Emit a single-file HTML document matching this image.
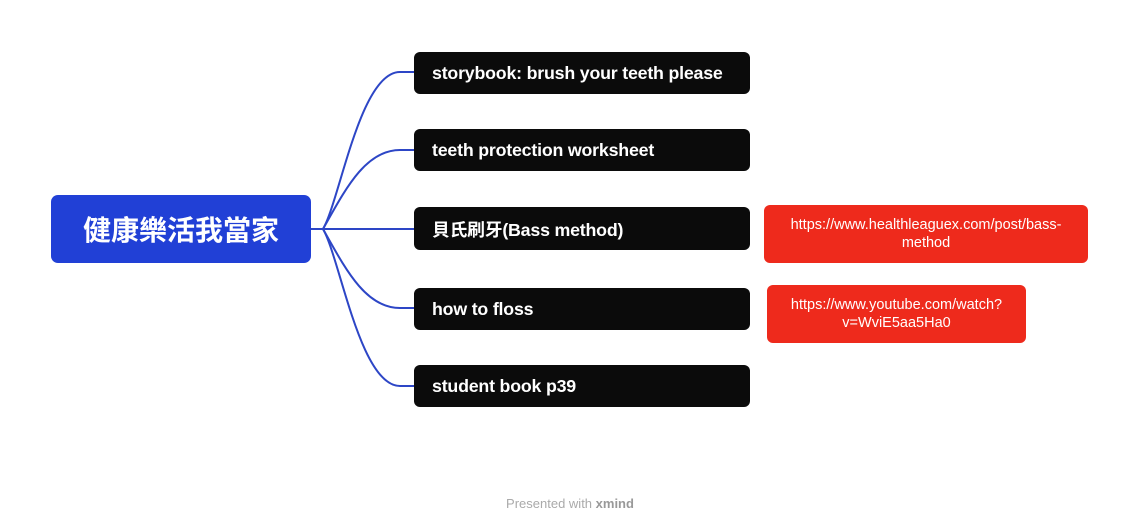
<!DOCTYPE html>
<html><head><meta charset="utf-8"><style>
body{margin:0;width:1140px;height:530px;background:#fff;position:relative;overflow:hidden;font-family:"Liberation Sans","Noto Sans CJK TC",sans-serif}
.n{position:absolute;box-sizing:border-box;display:flex;align-items:center}
.b{background:#0b0b0b;color:#fff;font-weight:bold;font-size:17.8px;left:414px;width:336px;height:42px;border-radius:6px;padding-left:18px;letter-spacing:-0.2px}
.r{background:#ee2a1c;color:#fff;font-size:14.5px;justify-content:center;text-align:center;border-radius:6px;line-height:18px}
</style></head><body>
<svg width="1140" height="530" style="position:absolute;left:0;top:0">
<g fill="none" stroke="#2d46c6" stroke-width="2">
<path d="M310 229 H323"/>
<path d="M323 229 C340 200 360 72 400 72 H414"/>
<path d="M323 229 C345 190 365 150 400 150 H414"/>
<path d="M323 229 H414"/>
<path d="M323 229 C345 268 365 308 400 308 H414"/>
<path d="M323 229 C340 258 360 386 400 386 H414"/>
</g></svg>
<div class="n" style="left:51px;top:195px;width:260px;height:68px;background:#2140d6;border-radius:7px;color:#fff;font-weight:bold;font-size:28px;justify-content:center">健康樂活我當家</div>
<div class="n b" style="top:52px">storybook: brush your teeth please</div>
<div class="n b" style="top:129px">teeth protection worksheet</div>
<div class="n b" style="top:207px;height:43px">貝氏刷牙(Bass method)</div>
<div class="n b" style="top:288px">how to floss</div>
<div class="n b" style="top:365px">student book p39</div>
<div class="n r" style="left:764px;top:205px;width:324px;height:58px">https://www.healthleaguex.com/post/bass-<br>method</div>
<div class="n r" style="left:767px;top:285px;width:259px;height:58px">https://www.youtube.com/watch?<br>v=WviE5aa5Ha0</div>
<div style="position:absolute;left:0;width:1140px;top:496px;text-align:center;font-size:13px;color:#aaa">Presented with <b style="color:#999">xmind</b></div>
</body></html>
